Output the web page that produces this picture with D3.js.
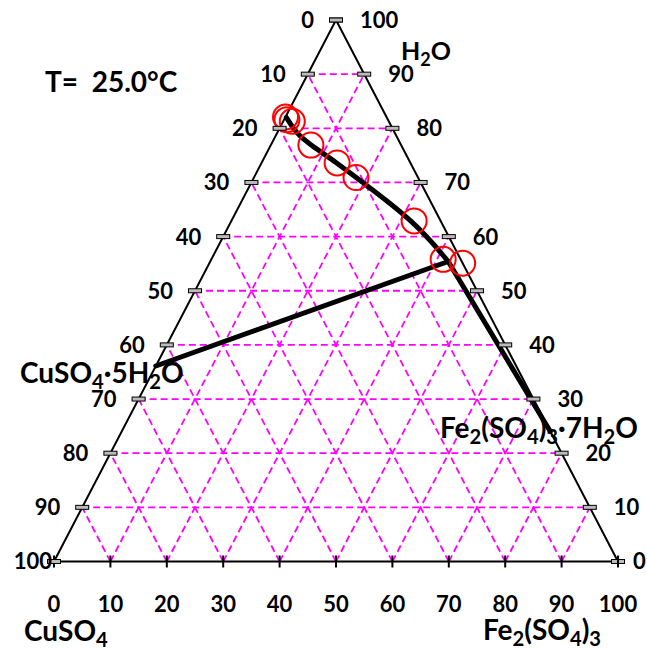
<!DOCTYPE html>
<html>
<head>
<meta charset="utf-8">
<script src="https://cdn.jsdelivr.net/npm/d3@7"></script>
<style>
  body { margin: 0; background: #fff; }
  text { font-family: Lato, "Open Sans", sans-serif; font-weight: bold; fill: #000; }
</style>
</head>
<body>
<svg id="chart" width="647" height="649"></svg>
<script>
// tick labels (percent)
const tickValues = [0, 10, 20, 30, 40, 50, 60, 70, 80, 90, 100];

// measured points (H2O %, Fe2(SO4)3 %)
const pointH2O = [82.1, 81.6, 81.3, 76.9, 73.6, 70.9, 62.9, 55.8, 55.1];
const pointFe  = [0.0, 0.5, 1.6, 7.1, 13.4, 18.1, 32.4, 41.1, 44.9];

// solubility curve of CuSO4·5H2O ending at the invariant point
const curveH2O = [82.0, 79.0, 76.9, 73.6, 70.9, 62.9, 55.4];
const curveFe  = [0.2, 3.5, 7.1, 13.4, 18.1, 32.4, 42.2];

// tie lines: solid phase -> invariant point
const invariant = { h2o: 55.4, fe: 42.2 };
const cuHydrate = { h2o: 36.1, fe: 0.0 };
const feHydrate = { h2o: 24.0, fe: 76.0 };

const svg = d3.select("#chart");

// base scales: x goes along the bottom side, y is the water height
const x = d3.scaleLinear().domain([0, 100]).range([54, 618]);
const y = d3.scaleLinear().domain([0, 100]).range([561.5, 20]);
const px = (h2o, fe) => x(fe + h2o / 2);
const py = h2o => y(h2o);

// grid
const grid = svg.append("g")
  .attr("stroke", "#ff00ff")
  .attr("stroke-width", 1.8)
  .attr("stroke-dasharray", "7,4")
  .attr("fill", "none");

tickValues.slice(1, -1).forEach(k => {
  // constant water
  grid.append("line")
    .attr("x1", px(k, 0)).attr("y1", py(k))
    .attr("x2", px(k, 100 - k)).attr("y2", py(k));
  // constant Fe2(SO4)3
  grid.append("line")
    .attr("x1", px(0, k)).attr("y1", py(0))
    .attr("x2", px(100 - k, k)).attr("y2", py(100 - k));
  // constant CuSO4
  grid.append("line")
    .attr("x1", px(0, 100 - k)).attr("y1", py(0))
    .attr("x2", px(100 - k, 0)).attr("y2", py(100 - k));
});

// triangle edges
svg.append("path")
  .attr("d", d3.line()([[px(100, 0), py(100)], [px(0, 0), py(0)], [px(0, 100), py(0)], [px(100, 0), py(100)]]))
  .attr("fill", "none")
  .attr("stroke", "#000")
  .attr("stroke-width", 2);

// thick lines
const curvePts = curveH2O.map((h, i) => [px(h, curveFe[i]), py(h)]);
svg.append("path")
  .attr("d", d3.line().curve(d3.curveBasis)(curvePts))
  .attr("fill", "none")
  .attr("stroke", "#000")
  .attr("stroke-width", 5)
  .attr("stroke-linecap", "round");

[cuHydrate, feHydrate].forEach(p => {
  svg.append("line")
    .attr("x1", px(p.h2o, p.fe)).attr("y1", py(p.h2o))
    .attr("x2", px(invariant.h2o, invariant.fe)).attr("y2", py(invariant.h2o))
    .attr("stroke", "#000")
    .attr("stroke-width", 5)
    .attr("stroke-linecap", "round");
});

// measured points
svg.append("g").selectAll("circle")
  .data(pointH2O)
  .join("circle")
  .attr("cx", (h, i) => px(h, pointFe[i]))
  .attr("cy", h => py(h))
  .attr("r", 12.5)
  .attr("fill", "none")
  .attr("stroke", "#ff0000")
  .attr("stroke-width", 2);

// ticks on the two slanted sides
const ticks = svg.append("g");
tickValues.forEach(v => {
  const h = 100 - v;
  [px(h, 0), px(h, 100 - h)].forEach(cx => {
    ticks.append("rect")
      .attr("x", cx - 6.5).attr("y", py(h) - 2)
      .attr("width", 13).attr("height", 4)
      .attr("fill", "#bbb")
      .attr("stroke", "#000")
      .attr("stroke-width", 1);
  });
  // bottom ticks
  ticks.append("line")
    .attr("x1", x(v)).attr("x2", x(v))
    .attr("y1", py(0) - 6).attr("y2", py(0) + 6)
    .attr("stroke", "#000")
    .attr("stroke-width", 2);
});

// tick labels
const labels = svg.append("g").attr("font-size", 22);
tickValues.forEach(v => {
  const h = 100 - v;
  // left side
  labels.append("text")
    .attr("x", px(h, 0) - (v === 100 ? 2 : 22))
    .attr("y", py(h))
    .attr("dy", "0.36em")
    .attr("text-anchor", "end")
    .text(v);
  // right side
  labels.append("text")
    .attr("x", px(v, 100 - v) + (v === 0 ? 15 : 24))
    .attr("y", py(v))
    .attr("dy", "0.36em")
    .text(v);
  // bottom
  labels.append("text")
    .attr("x", x(v))
    .attr("y", 612)
    .attr("text-anchor", "middle")
    .text(v);
});

// text with subscripts
function chem(xp, yp, size, parts) {
  const t = svg.append("text").attr("x", xp).attr("y", yp).attr("font-size", size);
  const shift = size * 0.22;
  let down = false;
  parts.forEach(p => {
    const sub = typeof p !== "string";
    let dy = 0;
    if (sub && !down) dy = shift;
    if (!sub && down) dy = -shift;
    t.append("tspan")
      .attr("dy", dy)
      .attr("font-size", sub ? size * 0.72 : size)
      .text(sub ? p.sub : p);
    down = sub;
  });
}

chem(401, 60, 25, ["H", { sub: "2" }, "O"]);
chem(24, 641, 28, ["CuSO", { sub: "4" }]);
chem(483, 640, 28, ["Fe", { sub: "2" }, "(SO", { sub: "4" }, ")", { sub: "3" }]);
chem(20, 383, 28, ["CuSO", { sub: "4" }, "·5H", { sub: "2" }, "O"]);
chem(440, 438, 28, ["Fe", { sub: "2" }, "(SO", { sub: "4" }, ")", { sub: "3" }, "·7H", { sub: "2" }, "O"]);

svg.append("text")
  .attr("x", 45).attr("y", 92)
  .attr("font-size", 28)
  .style("white-space", "pre")
  .text("T=  25.0°C");
</script>
</body>
</html>
